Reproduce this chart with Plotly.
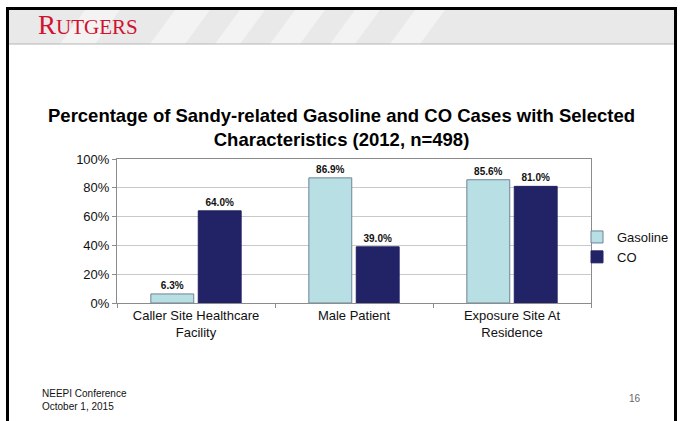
import plotly.graph_objects as go

categories = ["Caller Site Healthcare<br>Facility", "Male Patient", "Exposure Site At<br>Residence"]
gasoline = [6.3, 86.9, 85.6]
co = [64.0, 39.0, 81.0]
y_ticks = [0, 20, 40, 60, 80, 100]

W, H = 683, 421
def px(x): return x / W
def py(y): return 1 - y / H

fig = go.Figure()
fig.add_trace(go.Bar(
    name="Gasoline", x=categories, y=gasoline,
    marker=dict(color="#b8dfe3", line=dict(color="#6f8296", width=1)),
    texttemplate="<b>%{y:.1f}%</b>", textposition="outside",
    textfont=dict(family="Liberation Sans", size=10, color="#111"),
    cliponaxis=False,
))
fig.add_trace(go.Bar(
    name="CO", x=categories, y=co,
    marker=dict(color="#222266", line=dict(color="#222266", width=1)),
    texttemplate="<b>%{y:.1f}%</b>", textposition="outside",
    textfont=dict(family="Liberation Sans", size=10, color="#111"),
    cliponaxis=False,
))

shapes = [
    # header band
    dict(type="rect", xref="paper", yref="paper", x0=px(9), x1=px(674), y0=py(44), y1=py(10),
         fillcolor="#e9e9e9", line=dict(width=0), layer="below"),
    dict(type="line", xref="paper", yref="paper", x0=px(9), x1=px(674), y0=py(44), y1=py(44),
         line=dict(color="#b5b5b5", width=1)),
    # slide borders
    dict(type="rect", xref="paper", yref="paper", x0=px(7), x1=px(677), y0=py(10), y1=py(7),
         fillcolor="black", line=dict(width=0)),
    dict(type="rect", xref="paper", yref="paper", x0=px(6), x1=px(9), y0=0, y1=py(7),
         fillcolor="black", line=dict(width=0)),
    dict(type="rect", xref="paper", yref="paper", x0=px(674), x1=px(677), y0=0, y1=py(7),
         fillcolor="black", line=dict(width=0)),
]
# faint watermark stripes in header
for (a, b) in [(60, 95), (150, 185), (215, 240), (270, 300), (330, 355), (390, 420)]:
    shapes.append(dict(type="path", xref="paper", yref="paper",
                       path=f"M {px(a)} {py(44)} L {px(a+25)} {py(10)} L {px(b+25)} {py(10)} L {px(b)} {py(44)} Z",
                       fillcolor="#f3f3f3", line=dict(width=0), layer="below"))

annotations = [
    dict(text="R<span style='font-size:21px'>UTGERS</span>", x=px(36), y=py(25), xref="paper", yref="paper",
         xanchor="left", yanchor="middle", showarrow=False,
         font=dict(family="Liberation Serif", size=27, color="#d2112f")),
    dict(text="<b>Percentage of Sandy-related Gasoline and CO Cases with Selected<br>Characteristics (2012, n=498)</b>",
         x=px(341), y=py(127), xref="paper", yref="paper", xanchor="center", yanchor="middle",
         showarrow=False, font=dict(family="Liberation Sans", size=18.5, color="black")),
    dict(text="NEEPI Conference<br>October 1, 2015", x=px(40), y=py(400), xref="paper", yref="paper",
         xanchor="left", yanchor="middle", align="left", showarrow=False,
         font=dict(family="Liberation Sans", size=10, color="#111")),
    dict(text="16", x=px(635), y=py(398), xref="paper", yref="paper", xanchor="center", yanchor="middle",
         showarrow=False, font=dict(family="Liberation Sans", size=10, color="#666")),
]

fig.update_layout(
    width=W, height=H, margin=dict(l=0, r=0, t=0, b=0, autoexpand=False),
    paper_bgcolor="white", plot_bgcolor="white",
    barmode="group", bargap=0.4, bargroupgap=0.095,
    showlegend=True,
    legend=dict(x=px(577), y=py(222), xanchor="left", yanchor="top",
                font=dict(family="Liberation Sans", size=13, color="#111"),
                itemwidth=30, tracegroupgap=0, bgcolor="rgba(0,0,0,0)"),
    shapes=shapes, annotations=annotations,
    xaxis=dict(domain=[px(117), px(591)], showgrid=False, showline=True, linecolor="#8c8c8c",
               mirror=True, ticks="outside", tickson="boundaries", ticklen=4, tickcolor="#8c8c8c",
               tickfont=dict(family="Liberation Sans", size=13, color="#111")),
    yaxis=dict(domain=[py(303), py(159)], range=[0, 100], tickvals=y_ticks,
               ticktext=[f"{v}%" for v in y_ticks], showgrid=True, gridcolor="#c9c9c9",
               showline=True, linecolor="#8c8c8c", mirror=True, ticks="outside", ticklen=4,
               tickcolor="#8c8c8c", zeroline=False,
               tickfont=dict(family="Liberation Sans", size=13, color="#111")),
)

fig.write_html("out.html")
